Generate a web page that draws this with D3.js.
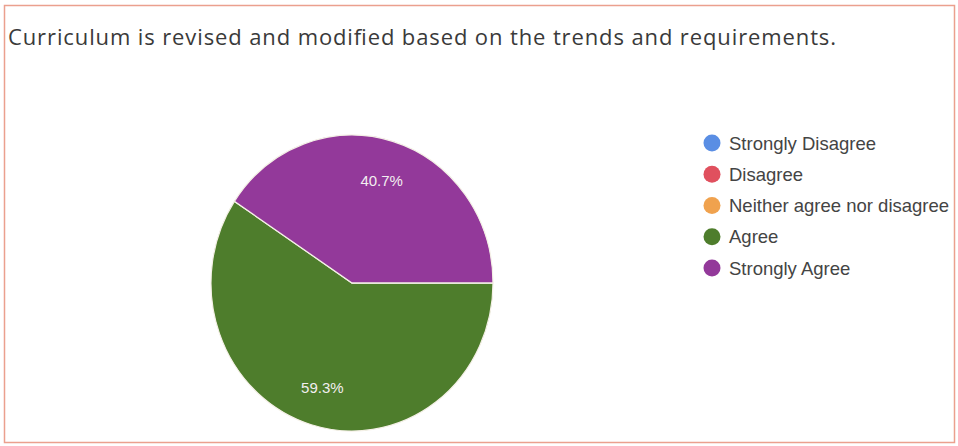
<!DOCTYPE html>
<html><head><meta charset="utf-8">
<script src="https://cdn.jsdelivr.net/npm/d3@7"></script>
<style>html,body{margin:0;padding:0;background:#fff;}svg{display:block;}</style>
</head><body>
<svg id="chart" width="958" height="446"></svg>
<script>
const title = "Curriculum is revised and modified based on the trends and requirements.";
const categories = ["Strongly Disagree", "Disagree", "Neither agree nor disagree", "Agree", "Strongly Agree"];
const values = [0, 0, 0, 59.3, 40.7];
const colors = ["#5a8ee4", "#e0505e", "#f0a24e", "#4e7d2c", "#93399a"];

const svg = d3.select("#chart");
svg.append("rect").attr("x", 4.5).attr("y", 5.5).attr("width", 950).attr("height", 437)
  .attr("fill", "#fff").attr("stroke", "#eba08e").attr("stroke-width", 1.5);

svg.append("text").attr("x", 8).attr("y", 45).text(title)
  .attr("font-family", "Open Sans, sans-serif").attr("font-size", 22).attr("fill", "#3a3a3a")
  .attr("textLength", 828).attr("lengthAdjust", "spacing");

const cx = 352, cy = 283, rx = 141, ry = 148;
const pie = d3.pie().sort(null).value(d => d).startAngle(Math.PI / 2).endAngle(Math.PI / 2 + 2 * Math.PI);
const arcs = pie(values);
const arc = d3.arc().innerRadius(0).outerRadius(rx);
const g = svg.append("g").attr("transform", `translate(${cx},${cy})`);
g.append("g").attr("transform", `scale(1,${ry / rx})`)
  .selectAll("path").data(arcs).join("path")
  .attr("d", arc).attr("fill", (d, i) => colors[i])
  .attr("stroke", "#f4f0e6").attr("stroke-width", d => d.value > 0 ? 1.2 : 0);

const labelArc = d3.arc().innerRadius(rx * 0.73).outerRadius(rx * 0.73);
g.selectAll("text").data(arcs.filter(d => d.value > 0)).join("text")
  .attr("transform", d => { const c = labelArc.centroid(d); return `translate(${c[0]},${c[1] * ry / rx + 1})`; })
  .attr("text-anchor", "middle").attr("dominant-baseline", "central")
  .attr("font-family", "Liberation Sans, Arial, sans-serif").attr("font-size", 15)
  .attr("fill", "#f2eef0").text(d => d.value.toFixed(1) + "%");

const legend = svg.append("g");
const ly = d3.scalePoint().domain(categories).range([143, 268]);
const items = legend.selectAll("g").data(categories).join("g")
  .attr("transform", d => `translate(712,${ly(d)})`);
items.append("circle").attr("r", 8.5).attr("fill", (d, i) => colors[i]);
items.append("text").attr("x", 17).attr("dominant-baseline", "central")
  .attr("font-family", "Liberation Sans, Arial, sans-serif").attr("font-size", 18.5)
  .attr("fill", "#444").text(d => d);
</script>
</body></html>
